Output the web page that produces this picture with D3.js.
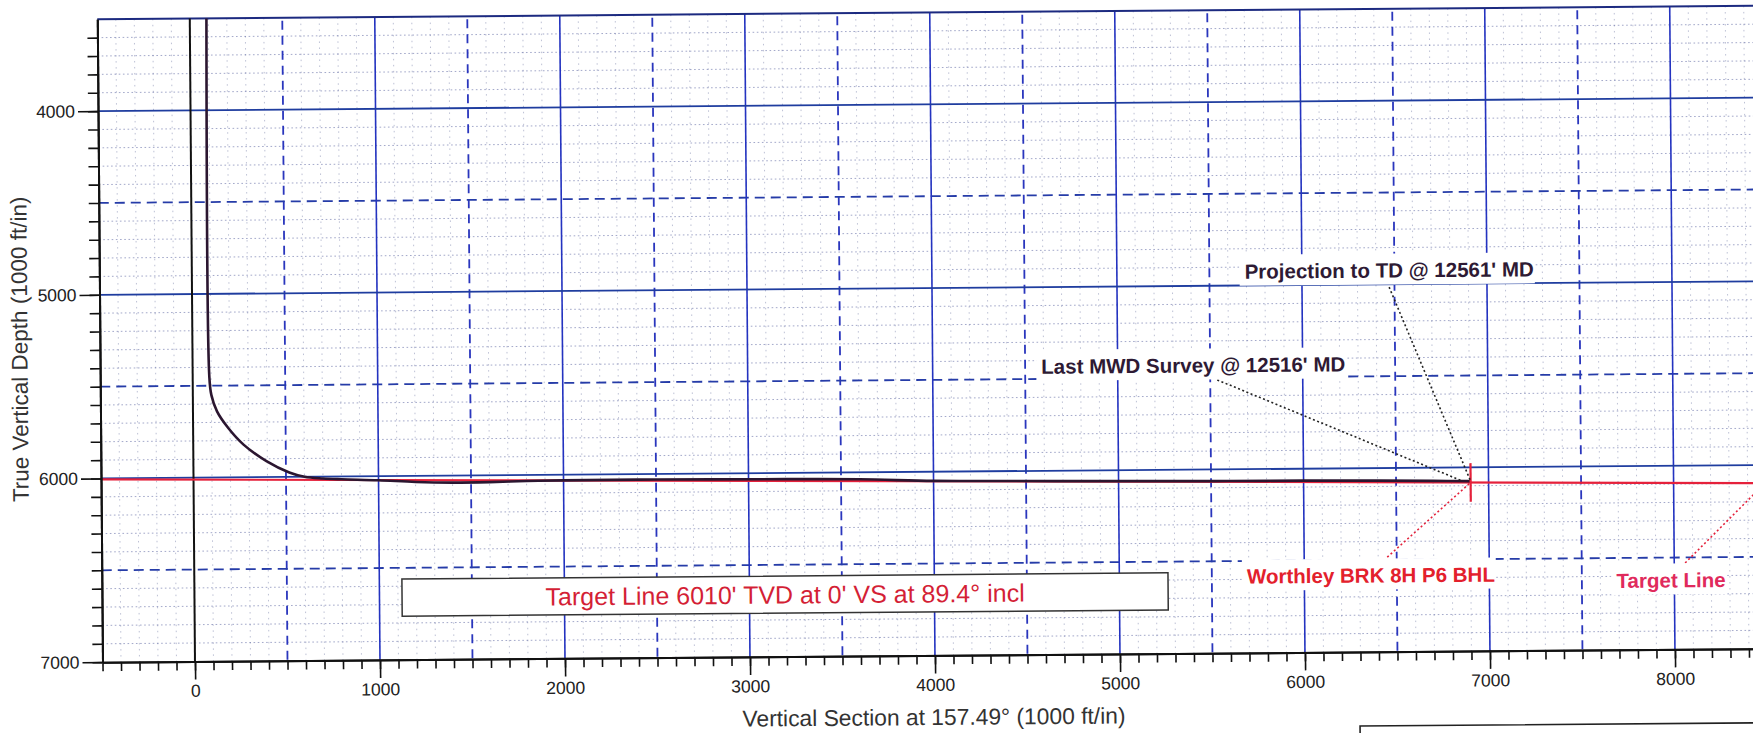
<!DOCTYPE html>
<html>
<head>
<meta charset="utf-8">
<script src="https://cdn.jsdelivr.net/npm/d3@7"></script>
<style>
  html, body { margin: 0; padding: 0; background: #fff; }
  svg { display: block; font-family: "Liberation Sans", Arial, sans-serif; }
</style>
</head>
<body>
<svg id="chart" width="1753" height="733"></svg>
<script>
"use strict";

/* Wellbore: vertical section (ft) and true vertical depth (ft) */
const wellVS  = [90, 90, 100, 130, 190, 272, 395, 518, 600, 700, 800, 1000, 1200, 1400, 1600, 1800,
  2000, 2400, 2800, 3200, 3600, 4000, 4400, 4800, 5200, 5600, 6000, 6400, 6700, 6903];
const wellTVD = [3500, 5450, 5550, 5640, 5731, 5822, 5913, 5976, 6000, 6010, 6015, 6022, 6033, 6038, 6037, 6033,
  6031, 6030, 6032, 6034, 6038, 6050, 6054, 6058, 6061, 6064, 6065, 6068, 6072, 6075];

/* Target line (6010' TVD at 0' VS, 89.4 deg) end points */
const targetVS  = [-500, 8600];
const targetTVD = [6005, 6100];

/* Bottom hole location marker */
const bhlVS = 6903;
const bhlTVD = 6082;

/* Tick labels */
const xTickLabels = [0, 1000, 2000, 3000, 4000, 5000, 6000, 7000, 8000];
const yTickLabels = [4000, 5000, 6000, 7000];

/* Annotations: text, anchor (vs, tvd), leader start and end */
const noteText  = ["Projection to TD @ 12561' MD", "Last MWD Survey @ 12516' MD", "Worthley BRK 8H P6 BHL", "Target Line"];
const noteVS    = [6472, 5409, 6360, 7982];
const noteTVD   = [4922, 5431, 6582, 6622];
const leadFrom  = [[6471, 5015], [5538, 5513], [6449, 6485], [8059, 6530]];
const leadTo    = [[6903, 6075], [6858, 6074], [6903, 6082], [8494, 6099]];
const noteColor = ["#2e1a34", "#2e1a34", "#e3202c", "#e02a5c"];

const targetBoxText = "Target Line 6010' TVD at 0' VS at 89.4\u00b0 incl";

const svg = d3.select("#chart");

const x = d3.scaleLinear().domain([-500, 8600]).range([101, 101 + 9100 * 0.185]);
const y = d3.scaleLinear().domain([3500, 7000]).range([18.5, 661.4]);

// the scanned sheet is slightly tilted
const g = svg.append("g")
  .attr("transform", `rotate(-0.465, ${x(0)}, ${y(6000)})`);

/* grid */
const [vs0, vs1] = x.domain();
const [tv0, tv1] = y.domain();

const minorH = d3.range(3600, 7000, 100).filter(d => d % 500 !== 0);
const minorV = d3.range(-400, 8601, 100).filter(d => d % 500 !== 0);

g.append("g").selectAll("line")
  .data(minorV)
  .join("line")
  .attr("x1", d => x(d)).attr("x2", d => x(d))
  .attr("y1", y(tv0)).attr("y2", y(tv1))
  .attr("stroke", "#7c84ac")
  .attr("stroke-width", 0.9)
  .attr("stroke-dasharray", "1.5,4.5")
  .attr("opacity", 0.55);

g.append("g").selectAll("line")
  .data(minorH)
  .join("line")
  .attr("x1", x(vs0)).attr("x2", x(vs1))
  .attr("y1", d => y(d)).attr("y2", d => y(d))
  .attr("stroke", "#56609f")
  .attr("stroke-width", 0.9)
  .attr("stroke-dasharray", "1.6,2.6")
  .attr("opacity", 0.6);

// dashed at every 500
g.append("g").selectAll("line")
  .data(d3.range(500, 8601, 1000))
  .join("line")
  .attr("x1", d => x(d)).attr("x2", d => x(d))
  .attr("y1", y(tv0) + 3).attr("y2", y(tv1))
  .attr("stroke", "#2a36bd")
  .attr("stroke-width", 1.8)
  .attr("stroke-dasharray", "9,6");

g.append("g").selectAll("line")
  .data([4500, 5500, 6500])
  .join("line")
  .attr("x1", x(vs0)).attr("x2", x(vs1))
  .attr("y1", d => y(d)).attr("y2", d => y(d))
  .attr("stroke", "#263ca8")
  .attr("stroke-width", 1.8)
  .attr("stroke-dasharray", "10,6");

// solid at every 1000
g.append("g").selectAll("line")
  .data(d3.range(1000, 8601, 1000))
  .join("line")
  .attr("x1", d => x(d)).attr("x2", d => x(d))
  .attr("y1", y(tv0)).attr("y2", y(tv1))
  .attr("stroke", "#2433c0")
  .attr("stroke-width", 1.6);

g.append("g").selectAll("line")
  .data([4000, 5000, 6000])
  .join("line")
  .attr("x1", x(vs0)).attr("x2", x(vs1))
  .attr("y1", d => y(d)).attr("y2", d => y(d))
  .attr("stroke", "#1f3d9f")
  .attr("stroke-width", 1.8);

// top frame
g.append("line")
  .attr("x1", x(vs0)).attr("x2", x(vs1))
  .attr("y1", y(tv0)).attr("y2", y(tv0))
  .attr("stroke", "#1c2a80")
  .attr("stroke-width", 2);

// zero section line
g.append("line")
  .attr("x1", x(0)).attr("x2", x(0))
  .attr("y1", y(tv0)).attr("y2", y(tv1))
  .attr("stroke", "#111")
  .attr("stroke-width", 2);

/* target line */
const pts = (a, b) => a.map((v, i) => [v, b[i]]);

g.append("path")
  .datum(pts(targetVS, targetTVD))
  .attr("d", d3.line().x(d => x(d[0])).y(d => y(d[1])))
  .attr("fill", "none")
  .attr("stroke", "#e5213b")
  .attr("stroke-width", 2.2);

/* wellbore */
g.append("path")
  .datum(pts(wellVS, wellTVD))
  .attr("d", d3.line().x(d => x(d[0])).y(d => y(d[1])).curve(d3.curveCatmullRom.alpha(0.5)))
  .attr("fill", "none")
  .attr("stroke", "#2b1630")
  .attr("stroke-width", 2.6);

// BHL marker
g.append("line")
  .attr("x1", x(bhlVS)).attr("x2", x(bhlVS))
  .attr("y1", y(bhlTVD - 105)).attr("y2", y(bhlTVD + 105))
  .attr("stroke", "#e5213b")
  .attr("stroke-width", 2.2);

/* leaders */
g.append("g").selectAll("line")
  .data(noteText.map((t, i) => i))
  .join("line")
  .attr("x1", i => x(leadFrom[i][0])).attr("y1", i => y(leadFrom[i][1]))
  .attr("x2", i => x(leadTo[i][0])).attr("y2", i => y(leadTo[i][1]))
  .attr("stroke", i => i < 2 ? "#222" : "#e3203a")
  .attr("stroke-width", 1.6)
  .attr("stroke-dasharray", "2,2.5");

/* labels with white backing */
const notes = g.append("g");
noteText.forEach((t, i) => {
  const lab = notes.append("g");
  const txt = lab.append("text")
    .attr("x", x(noteVS[i]))
    .attr("y", y(noteTVD[i]))
    .attr("text-anchor", "middle")
    .attr("dominant-baseline", "central")
    .attr("font-size", 20.5)
    .attr("font-weight", "bold")
    .attr("fill", noteColor[i])
    .text(t);
  const bb = txt.node().getBBox();
  lab.insert("rect", "text")
    .attr("x", bb.x - 5).attr("y", bb.y - 5)
    .attr("width", bb.width + 6).attr("height", bb.height + 8)
    .attr("fill", "#fff");
});

/* target box */
const boxVS = [1122, 5263];
const boxTVD = [6561, 6763];
g.append("rect")
  .attr("x", x(boxVS[0])).attr("y", y(boxTVD[0]))
  .attr("width", x(boxVS[1]) - x(boxVS[0])).attr("height", y(boxTVD[1]) - y(boxTVD[0]))
  .attr("fill", "#fff")
  .attr("stroke", "#333")
  .attr("stroke-width", 1.5);

g.append("text")
  .attr("x", (x(boxVS[0]) + x(boxVS[1])) / 2)
  .attr("y", (y(boxTVD[0]) + y(boxTVD[1])) / 2)
  .attr("text-anchor", "middle")
  .attr("dominant-baseline", "central")
  .attr("font-size", 25)
  .attr("fill", "#d41f36")
  .text(targetBoxText);

/* axes */
const xMinor = d3.axisBottom(x)
  .tickValues(d3.range(-500, 8601, 100))
  .tickSize(9).tickSizeOuter(0).tickFormat("");
const xMajor = d3.axisBottom(x)
  .tickValues(xTickLabels)
  .tickSize(18).tickSizeOuter(0).tickPadding(5)
  .tickFormat(d3.format("d"));

const yMinor = d3.axisLeft(y)
  .tickValues(d3.range(3600, 7001, 100))
  .tickSize(10).tickSizeOuter(0).tickFormat("");
const yMajor = d3.axisLeft(y)
  .tickValues(yTickLabels)
  .tickSize(20).tickSizeOuter(0).tickPadding(3)
  .tickFormat(d3.format("d"));

function styleAxis(sel) {
  sel.select(".domain").attr("stroke", "#111").attr("stroke-width", 2);
  sel.selectAll(".tick line").attr("stroke", "#111").attr("stroke-width", 1.6);
  sel.selectAll(".tick text")
    .attr("fill", "#222")
    .attr("font-size", 17.5)
    .attr("font-family", "\"Liberation Sans\", Arial, sans-serif");
}

g.append("g").attr("transform", `translate(0,${y(tv1)})`).call(xMinor).call(styleAxis);
g.append("g").attr("transform", `translate(0,${y(tv1)})`).call(xMajor).call(styleAxis);
g.append("g").attr("transform", `translate(${x(vs0)},0)`).call(yMinor).call(styleAxis);
g.append("g").attr("transform", `translate(${x(vs0)},0)`).call(yMajor).call(styleAxis);

/* axis titles */
g.append("text")
  .attr("x", 932).attr("y", 723)
  .attr("text-anchor", "middle")
  .attr("dominant-baseline", "central")
  .attr("font-size", 22.8)
  .attr("fill", "#333")
  .text("Vertical Section at 157.49\u00b0 (1000 ft/in)");

g.append("text")
  .attr("transform", "translate(21,348) rotate(-90)")
  .attr("text-anchor", "middle")
  .attr("dominant-baseline", "central")
  .attr("font-size", 22.5)
  .attr("fill", "#333")
  .text("True Vertical Depth (1000 ft/in)");

/* corner of the title block below the plot */
g.append("path")
  .attr("d", "M1358,760V735.5H1800")
  .attr("fill", "none")
  .attr("stroke", "#222")
  .attr("stroke-width", 1.6);
</script>
</body>
</html>
